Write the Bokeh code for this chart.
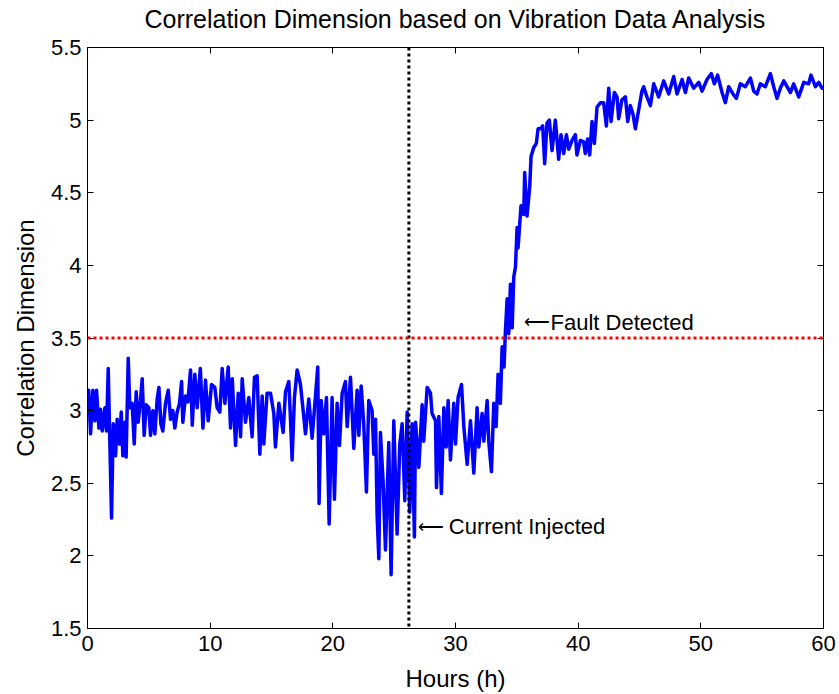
from bokeh.plotting import figure
from bokeh.models import Range1d, LinearAxis, FixedTicker, Span, Label
from bokeh.embed import file_html
from bokeh.resources import INLINE

# ---- data (hours, correlation dimension) ----
hours_a = [0.0, 0.1, 0.25, 0.44, 0.6, 0.74, 0.93, 1.06, 1.2, 1.42, 1.55, 1.69, 1.8, 1.96, 2.1, 2.29,
           2.42, 2.61, 2.75, 2.88, 3.05, 3.15, 3.32, 3.45, 3.64, 3.81, 3.97, 4.13, 4.32, 4.46, 4.62,
           4.79, 5.0, 5.14, 5.33, 5.49, 5.68, 5.82, 5.98, 6.14, 6.36, 6.58, 6.77, 6.96, 7.12, 7.31,
           7.5, 7.67, 7.77, 7.99, 8.18, 8.4, 8.54, 8.75, 8.94, 9.2, 9.41, 9.62, 9.84, 10.11, 10.38,
           10.57, 10.79, 10.98, 11.2, 11.47, 11.66, 11.8, 12.07, 12.29, 12.48, 12.61]
cd_a = [3.0, 3.14, 2.84, 3.14, 2.93, 3.14, 2.88, 3.01, 2.86, 3.02, 2.86, 3.29, 2.86, 2.26, 2.91, 2.69,
        2.94, 2.77, 2.99, 2.69, 2.92, 2.68, 3.36, 3.02, 3.05, 2.77, 3.13, 2.92, 3.07, 3.22, 2.83,
        3.04, 3.02, 2.83, 3.0, 2.84, 3.08, 3.16, 2.91, 2.86, 3.05, 3.14, 2.94, 3.0, 2.88, 2.99,
        3.05, 3.2, 2.92, 3.1, 3.06, 3.28, 2.9, 3.25, 3.02, 3.29, 2.88, 3.21, 2.93, 3.18, 3.16,
        3.02, 2.99, 3.29, 3.05, 3.3, 2.88, 3.22, 2.76, 3.12, 2.82, 3.22]

hours_b = [12.88, 13.15, 13.42, 13.61, 13.83, 14.05, 14.24, 14.37, 14.64, 14.92, 15.19, 15.32, 15.6,
           15.95, 16.14, 16.41, 16.55, 16.68, 16.87, 17.09, 17.36, 17.63, 17.77, 18.04, 18.31, 18.5,
           18.77, 18.88, 19.05, 19.26, 19.48, 19.7, 19.94, 20.13, 20.35, 20.54, 20.76, 21.03, 21.17,
           21.44, 21.71, 21.98, 22.12, 22.31, 22.52, 22.74, 22.93, 23.2, 23.34, 23.48, 23.61, 23.75,
           23.88, 24.1, 24.29, 24.56, 24.75, 24.97, 25.24, 25.46, 25.65, 25.87, 26.06, 26.27, 26.46,
           26.65]
cd_b = [2.92, 3.09, 2.82, 3.23, 3.24, 2.70, 3.10, 2.77, 3.12, 3.12, 2.98, 2.75, 3.05,
        2.85, 3.13, 3.2, 2.94, 2.66, 3.09, 3.28, 3.18, 2.96, 2.84, 3.08, 2.81, 3.01,
        3.3, 2.36, 3.07, 2.84, 3.09, 2.22, 3.09, 2.39, 3.05, 2.76, 3.12, 3.2, 2.89,
        3.23, 2.74, 3.14, 2.83, 3.17, 2.91, 2.44, 3.07, 3.0, 2.70, 2.94, 2.28, 1.98,
        2.85, 2.51, 2.04, 2.78, 1.87, 2.93, 2.15, 2.77, 2.91, 2.38, 2.99, 2.3, 2.91,
        2.13]

hours_c = [26.74, 27.01, 27.28, 27.41, 27.69, 27.96, 28.09, 28.37, 28.45, 28.64, 28.85, 29.05, 29.24,
           29.4, 29.59, 29.86, 30.0, 30.21, 30.49, 30.68, 30.95, 31.22, 31.49, 31.76, 31.9, 32.17,
           32.31, 32.58, 32.71, 32.93, 33.12, 33.31, 33.47, 33.66, 33.8, 33.96, 34.07, 34.21, 34.34,
           34.48, 34.62, 34.75, 34.89]
cd_c = [2.92, 2.61, 3.04, 2.79, 3.16, 3.12, 2.98, 2.93, 2.47, 2.96, 2.43, 3.02, 2.75,
        3.07, 2.66, 3.05, 2.77, 3.09, 3.18, 2.89, 2.63, 2.93, 2.57, 3.02, 2.75, 2.98,
        2.79, 3.07, 2.79, 2.58, 3.05, 2.89, 3.25, 3.05, 3.44, 3.3, 3.55, 3.77, 3.53,
        3.87, 3.57, 3.92, 3.99]

hours_d = [35.02, 35.1, 35.34, 35.56, 35.64, 35.83, 36.05, 36.16, 36.37, 36.59, 36.73, 36.92, 37.11,
           37.27, 37.46, 37.65, 37.87, 38.14, 38.41, 38.6, 38.82, 39.04, 39.23, 39.5, 39.77, 39.9,
           40.18, 40.45, 40.58, 40.77, 40.94, 41.13, 41.32, 41.54, 41.81, 42.08, 42.3, 42.49, 42.68,
           42.95, 43.17, 43.3, 43.57, 43.85, 44.04, 44.25, 44.47, 44.66, 44.93, 45.2]
cd_d = [4.26, 4.12, 4.41, 4.35, 4.64, 4.34, 4.54, 4.75, 4.81, 4.84, 4.94, 4.94, 4.96,
        4.70, 4.98, 5.0, 4.79, 5.0, 4.73, 4.9, 4.77, 4.9, 4.8, 4.86, 4.9, 4.76,
        4.86, 4.85, 4.77, 4.87, 4.76, 4.99, 4.84, 5.09, 5.12, 5.12, 4.96, 5.22, 4.99,
        5.19, 5.16, 5.01, 5.14, 5.16, 4.99, 5.1, 5.04, 4.94, 5.07, 5.2]

hours_e = [45.34, 45.61, 45.89, 46.16, 46.56, 46.97, 47.38, 47.79, 48.06, 48.47, 48.74, 49.01, 49.42,
           49.83, 50.1, 50.5, 50.86, 51.1, 51.37, 51.73, 52.0, 52.27, 52.62, 52.9, 53.22, 53.63,
           54.04, 54.31, 54.58, 54.85, 55.26, 55.67, 55.94, 56.21, 56.48, 56.76, 57.03, 57.3, 57.57,
           57.98, 58.39, 58.79, 58.98, 59.34, 59.61, 59.88, 60.0]
cd_e = [5.23, 5.16, 5.1, 5.25, 5.16, 5.27, 5.18, 5.3, 5.18, 5.28, 5.19, 5.29, 5.22,
        5.26, 5.2, 5.28, 5.32, 5.25, 5.31, 5.19, 5.12, 5.23, 5.18, 5.15, 5.25, 5.23,
        5.29, 5.2, 5.18, 5.25, 5.23, 5.32, 5.23, 5.15, 5.22, 5.27, 5.23, 5.19, 5.25,
        5.16, 5.26, 5.25, 5.31, 5.23, 5.26, 5.22, 5.22]

current_injected_hour = 26.2
fault_threshold = 3.5

x_ticks = [0, 10, 20, 30, 40, 50, 60]
y_ticks = [1.5, 2, 2.5, 3, 3.5, 4, 4.5, 5, 5.5]
y_tick_labels = ["1.5", "2", "2.5", "3", "3.5", "4", "4.5", "5", "5.5"]

title_text = "Correlation Dimension based on Vibration Data Analysis"

hours = hours_a + hours_b + hours_c + hours_d + hours_e
cd = cd_a + cd_b + cd_c + cd_d + cd_e
assert len(hours) == len(cd), (len(hours), len(cd))

FONT = "Liberation Sans"

p = figure(width=836, height=694, output_backend="svg", toolbar_location=None,
           x_range=Range1d(0, 60), y_range=Range1d(1.5, 5.5),
           min_border_left=87, min_border_right=13, min_border_top=47, min_border_bottom=66,
           background_fill_color="white", border_fill_color="white")
p.title.visible = False

p.outline_line_color = "black"
p.outline_line_width = 1
p.outline_line_alpha = 1
p.grid.visible = False

for ax in (p.xaxis[0], p.yaxis[0]):
    ax.major_tick_in = 6
    ax.major_tick_out = 0
    ax.minor_tick_in = 0
    ax.minor_tick_out = 0
    ax.axis_line_color = "black"
    ax.major_tick_line_color = "black"
    ax.major_label_text_font = FONT
    ax.major_label_text_font_size = "22px"
    ax.major_label_text_color = "black"
    ax.axis_label_text_font = FONT
    ax.axis_label_text_font_size = "24px"
    ax.axis_label_text_font_style = "normal"
    ax.axis_label_text_color = "black"

p.xaxis.ticker = FixedTicker(ticks=x_ticks)
p.yaxis.ticker = FixedTicker(ticks=y_ticks)
p.yaxis.major_label_overrides = {t: l for t, l in zip(y_ticks, y_tick_labels)}
p.xaxis.axis_label = "Hours (h)"
p.yaxis.axis_label = "Correlation Dimension"
p.xaxis.major_label_standoff = 7
p.yaxis.major_label_standoff = 6
p.xaxis.axis_label_standoff = 11
p.yaxis.axis_label_standoff = 9

# top axis: mirrored inner ticks (labels not painted); it carries the chart title
top = LinearAxis(ticker=FixedTicker(ticks=x_ticks), major_label_text_font_size="1px",
                 major_label_text_color=None,
                 major_tick_in=6, major_tick_out=0, minor_tick_in=0, minor_tick_out=0,
                 major_label_standoff=0, axis_line_color="black",
                 axis_label=title_text, axis_label_text_font=FONT,
                 axis_label_text_font_size="25px", axis_label_text_font_style="normal",
                 axis_label_text_color="black", axis_label_standoff=15)
right = LinearAxis(ticker=FixedTicker(ticks=y_ticks), major_label_text_font_size="1px",
                   major_label_text_color=None,
                   major_tick_in=6, major_tick_out=0, minor_tick_in=0, minor_tick_out=0,
                   major_label_standoff=0, axis_line_color="black")
p.add_layout(top, "above")
p.add_layout(right, "right")

p.line(hours, cd, line_color="#0000FF", line_width=3.5, line_join="round")

p.add_layout(Span(location=current_injected_hour, dimension="height", line_color="black",
                  line_width=3, line_dash="3 3"))
p.add_layout(Span(location=fault_threshold, dimension="width", line_color="#FF0000",
                  line_width=3, line_dash="3 3"))

# annotations: arrow and text
p.add_layout(Label(x=26.98, y=2.2, text="\u27f5", text_font=FONT, text_font_size="18px",
                   text_baseline="middle", text_color="black"))
p.add_layout(Label(x=29.45, y=2.2, text="Current Injected", text_font=FONT,
                   text_font_size="22px", text_baseline="middle", text_color="black"))
p.add_layout(Label(x=35.62, y=3.61, text="\u27f5", text_font=FONT, text_font_size="18px",
                   text_baseline="middle", text_color="black"))
p.add_layout(Label(x=37.75, y=3.61, text="Fault Detected", text_font=FONT,
                   text_font_size="22px", text_baseline="middle", text_color="black"))

open("out.html", "w").write(file_html(p, INLINE))
